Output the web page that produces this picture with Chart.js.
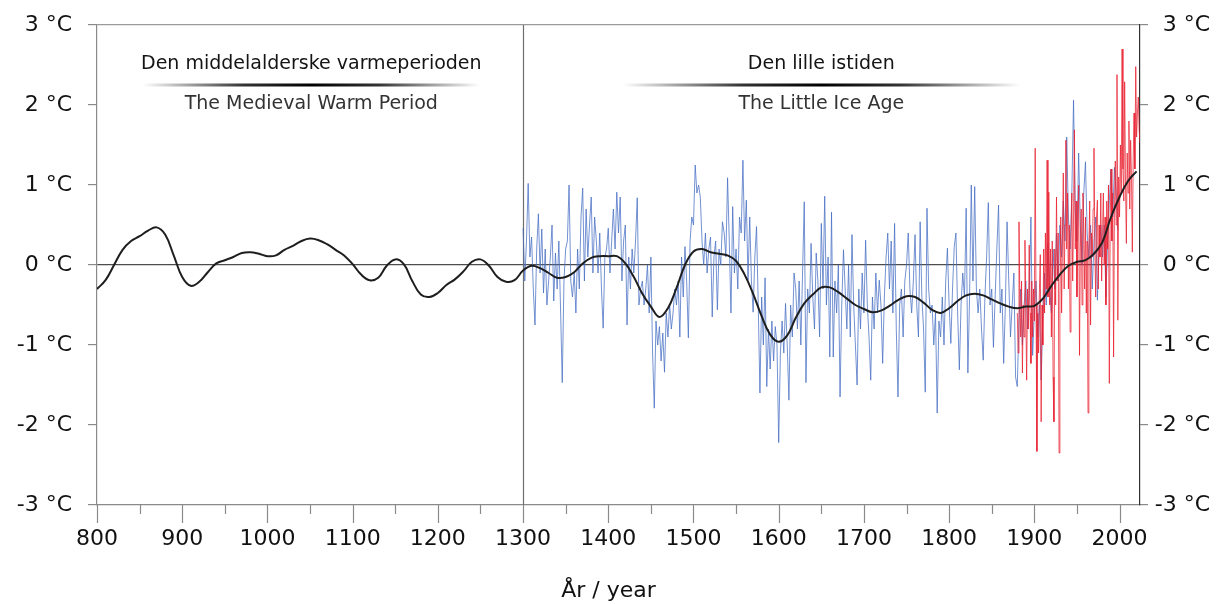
<!DOCTYPE html>
<html lang="no">
<head>
<meta charset="UTF-8">
<title>Temperatur 800–2024</title>
<script src="https://cdn.jsdelivr.net/npm/chart.js"></script>
<style>
  html, body { margin: 0; padding: 0; background: #fff; }
  #wrap { width: 1230px; height: 604px; }
</style>
</head>
<body>
<div id="wrap"><canvas id="myChart" width="1230" height="604"></canvas></div>
<script>
// smoothed reconstruction, one value per 10 years from 800
const smoothStart = 800, smoothStep = 10;
const smoothValues = [
  -0.30, -0.19, 0.00, 0.19, 0.30, 0.36, 0.43, 0.47, 0.38, 0.12,
  -0.15, -0.26, -0.21, -0.09, 0.02, 0.06, 0.10, 0.15, 0.16, 0.14,
  0.11, 0.12, 0.19, 0.24, 0.30, 0.33, 0.31, 0.26, 0.19, 0.12,
  0.01, -0.12, -0.19, -0.16, -0.01, 0.07, 0.01, -0.20, -0.37, -0.40,
  -0.35, -0.25, -0.18, -0.08, 0.04, 0.07, -0.01, -0.15, -0.21, -0.19,
  -0.07, -0.01, -0.04, -0.10, -0.16, -0.15, -0.09, 0.02, 0.09, 0.11,
  0.11, 0.11, 0.02, -0.15, -0.36, -0.52, -0.65, -0.54, -0.29, 0.00,
  0.17, 0.20, 0.16, 0.14, 0.12, 0.05, -0.12, -0.36, -0.64, -0.87,
  -0.96, -0.88, -0.66, -0.48, -0.37, -0.28, -0.28, -0.34, -0.42, -0.50,
  -0.55, -0.59, -0.57, -0.51, -0.44, -0.39, -0.40, -0.47, -0.56, -0.60,
  -0.54, -0.45, -0.38, -0.36, -0.38, -0.43, -0.48, -0.52, -0.54, -0.52,
  -0.51, -0.42, -0.26, -0.12, -0.01, 0.04, 0.06, 0.14, 0.29, 0.60,
  0.85, 1.05, 1.17
];

// proxy series (blue), one value per 2 years from 1300
const proxyStart = 1300, proxyStep = 2;
const proxyValues = [
  0.46, -0.2, 0.3, 1.02, 0.1,   0.35, -0.3, -0.75, 0.2, 0.64,
  -0.1, 0.45, -0.35, 0.2, -0.5,  -0.2, 0.1, 0.5, -0.45, 0.15,
  -0.3, 0.3, -0.55, -1.47, -0.2, 0.2, 0.3, 1.0, -0.2, -0.4,
  -0.1, -0.6, 0.2, -0.3, 0.6,   0.96, -0.2, 0.7, 0.1, 0.5,
  0.85, -0.1, 0.6, 0.3, -0.1,   0.4, -0.3, -0.79, 0.1, 0.2,
  0.46, -0.1, 0.3, 0.7, 0.2,    0.91, 0.4, 0.85, -0.2, 0.3,
  0.5, -0.75, 0.1, -0.3, 0.2,   -0.1, 0.3, 0.84, -0.5, -0.3,
  -0.2, -0.5, -0.3, 0.0, -0.6,  0.1, -1.1, -1.79, -0.7, -1.0,
  -0.77, -1.2, -0.85, -1.34, -0.6, -0.9, -0.5, -0.8, -0.6, -0.3,
  -0.5, -0.2, -0.9, 0.1, -0.4,  0.23, -0.2, -0.91, 0.3, 0.6,
  0.5, 1.25, 0.9, 1.0, 0.85,    0.3, 0.0, 0.4, -0.1, 0.2,
  0.35, -0.65, 0.1, 0.3, -0.56, 0.2, 0.0, 0.54, 0.4, 0.1,
  1.09, 0.3, -0.6, 0.73, -0.1,  0.2, -0.3, 0.6, 0.4, 1.31,
  0.3, 0.81, -0.19, 0.6, -0.2,  -0.59, 0.1, 0.48, -0.5, -1.6,
  -0.4, -1.0, -0.16, -1.52, -0.8, -1.3, -0.7, -1.2, -0.77, -1.0,
  -2.22, -1.1, -0.7, -1.1, -0.48, -1.0, -1.69, -0.5, -0.9, -0.1,
  -0.3, -0.8, -0.2, -1.0, -0.1, 0.79, -1.47, -0.3, -0.6, 0.27,
  -0.4, -0.8, 0.15, -0.2, -0.9, 0.52, -0.3, 0.86, -0.5, 0.1,
  -1.15, 0.66, -1.15, -0.2, -0.6, 0.0, -1.65, -0.5, 0.19, -0.3,
  -0.8, 0.0, -0.9, 0.38, -0.5,  -1.0, -1.5, -0.3, -0.8, -0.1,
  -0.6, 0.31, -0.5, -0.9, -1.44, -0.4, -0.8, -0.1, -0.6, -0.19,
  -0.5, -1.23, -0.4, 0.1, 0.4,  -0.3, 0.3, -0.6, 0.52, -0.8,
  -1.65, -0.5, -0.3, -0.9, -0.2, 0.0, 0.4, -0.3, -0.6, -0.2,
  0.38, -0.5, -0.9, 0.54, -0.4, -0.8, -1.59, 0.71, -0.3, -0.6,
  -0.5, -1.0, -0.6, -1.85, -0.7, -0.9, -0.4, -1.0, -0.2, 0.21,
  -0.5, -0.98, -0.3, 0.23, 0.4, -0.6, -1.31, -0.5, -0.1, -0.4,
  0.71, -1.35, -0.4, 1.0, -0.2, 0.98, -0.3, -0.6, -0.3, -0.8,
  -1.19, -0.4, 0.1, 0.78, -0.5, -0.3, -1.03, -0.4, 0.2, 0.75,
  -0.6, -0.3, -1.23, -0.5, 0.54, -0.2, -0.9, -0.5, -0.1, -1.4,
  -1.52, -0.7, -0.3, -1.0, -0.5, -0.2, -0.8, -0.4, 0.6, -1.13,
  -0.6, -0.2, -0.9, -0.5, -1.44, -0.6, -0.1, -0.5, 0.27, -0.3,
  -0.6, 0.2, -0.3, 0.4, -0.2,   0.5, 0.1, 0.8, 0.3, 1.6,
  0.6, 0.2, 0.9, 2.06, 0.7,     0.3, 1.4, 0.5, 0.0, 0.9,
  1.29, 0.4, 0.1, 0.5, -0.3,    0.3, 0.6, -0.44, 0.2, 0.5,
  0.1, 0.5, -0.4, 0.3, 0.8,     1.2, 0.6, 1.22, 0.9, 0.44
];

// instrumental series (red), one value per year from 1880
const instrStart = 1880, instrStep = 1;
const instrValues = [
  -0.6, -1.1, 0.54, -0.4, -0.9, -0.2, -1.35, -0.5, -0.9, 0.31,
  -0.6, -1.44, -0.3, -0.8, 0.25, -0.6, -1.23, -0.2, -0.9, -0.3,
  -0.7, 1.46, -0.5, -2.33, -0.6, -1.1, -0.3, 0.13, -1.96, -0.5,
  -1.0, 0.2, -0.6, 0.4, -0.3, 1.31, -0.4, 0.91, -0.5, 0.2,
  -0.9, 0.3, -1.4, -1.96, 0.2, -0.5, 0.85, -0.2, 0.4, -2.35,
  -0.4, 0.6, -0.6, 0.3, 1.15, -0.3, 0.5, 1.56, 0.2, 0.9,
  -0.3, 0.5, -0.84, 0.3, 0.9, -0.2, 0.6, 1.69, 0.2, 0.8,
  -0.4, 0.3, 1.0, -1.13, 0.2, 0.7, -0.5, 0.9, 0.44, -0.3,
  0.6, -0.6, 0.3, -1.85, 0.2, 0.8, -0.75, 0.4, 0.1, 0.7,
  1.46, 0.2, -0.4, 0.6, 0.81, -0.3, 0.5, 0.1, 0.9, -0.2,
  0.4, 0.9, 0.0, 0.6, -0.5, 0.8, 0.2, 1.0, -1.48, 0.5,
  1.2, 0.3, 0.9, -1.15, 0.7, 1.3, 0.5, 2.38, -0.69, 1.1,
  0.6, 1.5, 0.9, 2.7, 1.2, 0.8, 2.29, 1.0, 0.27, 1.4,
  0.9, 1.8, 0.7, 1.56, 1.1, 0.16, 1.3, 1.9, 1.2, 2.48,
  1.6, 1.9, 2.1, 1.7, 1.52
];

// axis ranges and labels
const yearMin = 800, yearMax = 2024;
const tempMin = -3, tempMax = 3;
const xAxisTitle = 'År / year';

// period annotations
const periodNo = ['Den middelalderske varmeperioden', 'Den lille istiden'];
const periodEn = ['The Medieval Warm Period', 'The Little Ice Age'];
const periodFrom = [854, 1417];
const periodTo = [1249, 1883];
const periodMarkYear = 1300;

const toPoints = (start, step, vals) => vals.map((v, i) => ({ x: start + i * step, y: v }));

const FONT = '"DejaVu Sans", "Liberation Sans", Arial, sans-serif';

const decor = {
  id: 'decor',
  beforeDatasetsDraw(chart) {
    const { ctx, chartArea: a, scales: { x } } = chart;
    const px = Math.round(x.getPixelForValue(periodMarkYear)) + 0.5;
    ctx.save();
    ctx.strokeStyle = '#6f6f6f';
    ctx.lineWidth = 1.2;
    ctx.beginPath();
    ctx.moveTo(px, a.top);
    ctx.lineTo(px, a.bottom);
    ctx.stroke();
    ctx.restore();
  },
  afterDraw(chart) {
    const { ctx, chartArea: a, scales: { x, y } } = chart;
    ctx.save();
    // x tick marks: long every 100, short every 50
    ctx.strokeStyle = '#8a8a8a';
    ctx.lineWidth = 1.2;
    for (let v = 800; v <= 2000; v += 50) {
      const px = Math.round(x.getPixelForValue(v)) + 0.5;
      const len = v % 100 === 0 ? 18 : 9;
      ctx.beginPath();
      ctx.moveTo(px, a.bottom);
      ctx.lineTo(px, a.bottom + len);
      ctx.stroke();
    }
    // period labels
    ctx.textAlign = 'center';
    ctx.textBaseline = 'middle';
    for (let i = 0; i < periodNo.length; i++) {
      const x0 = x.getPixelForValue(periodFrom[i]);
      const x1 = x.getPixelForValue(periodTo[i]);
      const cx = (x0 + x1) / 2;
      ctx.font = '19px ' + FONT;
      ctx.fillStyle = '#141414';
      ctx.fillText(periodNo[i], cx, y.getPixelForValue(2.51));
      const ly = y.getPixelForValue(2.25);
      const g = ctx.createLinearGradient(x0, 0, x1, 0);
      g.addColorStop(0, 'rgba(0,0,0,0)');
      g.addColorStop(0.3, 'rgba(0,0,0,0.8)');
      g.addColorStop(0.5, 'rgba(0,0,0,1)');
      g.addColorStop(0.7, 'rgba(0,0,0,0.8)');
      g.addColorStop(1, 'rgba(0,0,0,0)');
      ctx.strokeStyle = g;
      ctx.lineWidth = 3;
      ctx.beginPath();
      ctx.moveTo(x0, ly);
      ctx.lineTo(x1, ly);
      ctx.stroke();
      ctx.fillStyle = '#333';
      ctx.fillText(periodEn[i], cx, y.getPixelForValue(2.01));
    }
    // x axis title
    ctx.font = '22px ' + FONT;
    ctx.fillStyle = '#111';
    ctx.fillText(xAxisTitle, (a.left + a.right) / 2 - 10, 591);
    ctx.restore();
  }
};

const yTickLabel = v => v + ' °C';
const fitY = w => s => { s.width = w; s.paddingTop = 0; s.paddingBottom = 0; };

new Chart(document.getElementById('myChart').getContext('2d'), {
  type: 'line',
  data: {
    datasets: [
      {
        label: 'smoothed',
        data: toPoints(smoothStart, smoothStep, smoothValues),
        borderColor: '#1e1e1e',
        borderWidth: 2,
        tension: 0.4,
        pointRadius: 0
      },
      {
        label: 'instrumental',
        data: toPoints(instrStart, instrStep, instrValues),
        borderColor: 'rgba(232, 30, 45, 0.75)',
        borderWidth: 1,
        tension: 0,
        pointRadius: 0
      },
      {
        label: 'proxy',
        data: toPoints(proxyStart, proxyStep, proxyValues),
        borderColor: 'rgba(70, 110, 195, 0.75)',
        borderWidth: 1,
        tension: 0,
        pointRadius: 0
      }
    ]
  },
  options: {
    responsive: false,
    animation: false,
    events: [],
    layout: { padding: { top: 25, right: 20, left: 0, bottom: 0 } },
    plugins: { legend: { display: false }, tooltip: { enabled: false } },
    scales: {
      x: {
        type: 'linear',
        min: yearMin,
        max: yearMax,
        afterFit: s => { s.height = 99; s.paddingLeft = 0; s.paddingRight = 0; },
        grid: { display: false, drawTicks: false, tickLength: 0 },
        border: { display: true, color: '#8a8a8a', width: 1.2 },
        ticks: {
          stepSize: 100,
          includeBounds: false,
          padding: 21,
          maxRotation: 0,
          autoSkip: false,
          color: '#111',
          font: { family: FONT, size: 22 },
          callback: v => String(v)
        }
      },
      y: {
        position: 'left',
        min: tempMin,
        max: tempMax,
        afterFit: fitY(97),
        grid: {
          drawOnChartArea: true,
          tickLength: 9,
          lineWidth: 1.2,
          color: c => c.tick.value === 0 ? '#4d4d4d' : (c.tick.value === tempMax ? '#9a9a9a' : 'rgba(0,0,0,0)'),
          tickColor: '#8a8a8a'
        },
        border: { color: '#8a8a8a', width: 1.2 },
        ticks: {
          stepSize: 1,
          padding: 16,
          color: '#111',
          font: { family: FONT, size: 22 },
          callback: yTickLabel
        }
      },
      y2: {
        position: 'right',
        min: tempMin,
        max: tempMax,
        afterFit: fitY(70),
        grid: { drawOnChartArea: false, tickLength: 8, lineWidth: 1.2, tickColor: '#8a8a8a' },
        border: { color: '#333', width: 1.2 },
        ticks: {
          stepSize: 1,
          crossAlign: 'far',
          color: '#111',
          font: { family: FONT, size: 22 },
          callback: yTickLabel
        }
      }
    }
  },
  plugins: [decor]
});
</script>
</body>
</html>
